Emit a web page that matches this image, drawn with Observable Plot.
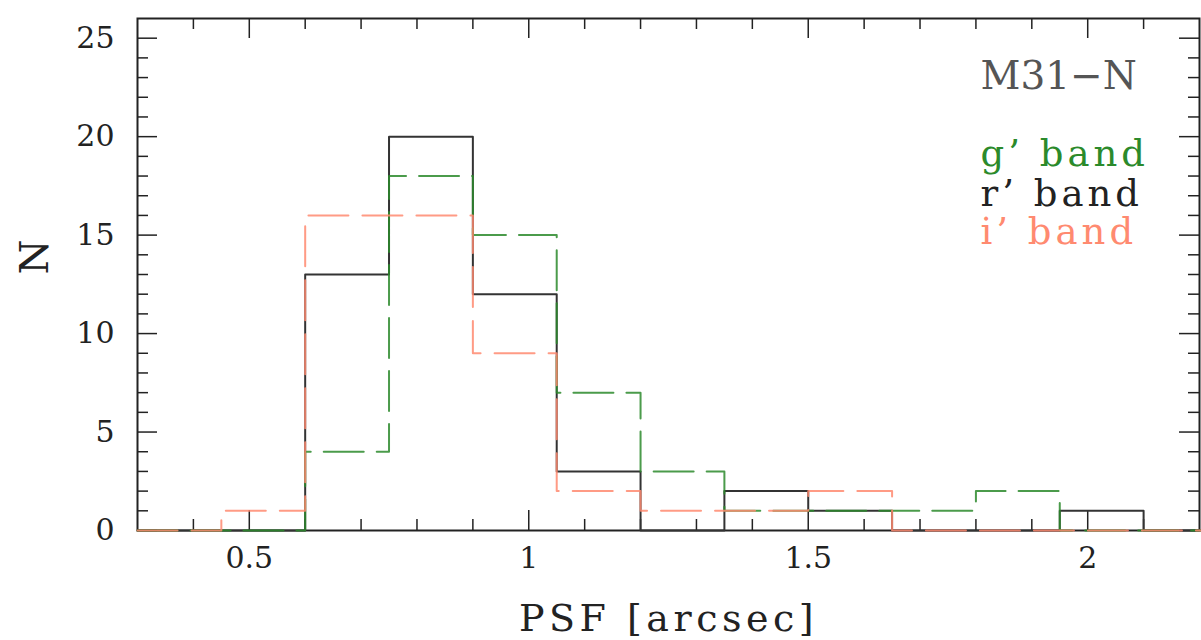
<!DOCTYPE html>
<html><head><meta charset="utf-8">
<script src="https://cdn.jsdelivr.net/npm/d3@7"></script>
<script src="https://cdn.jsdelivr.net/npm/@observablehq/plot@0.6"></script>
<style>
  html,body{margin:0;padding:0;background:#fff;}
  #chart svg{display:block;}
</style>
</head><body><div id="chart"></div>
<script>
// Histogram bin edges (PSF in arcsec) and counts per band
const binEdges = [0.3, 0.45, 0.6, 0.75, 0.9, 1.05, 1.2, 1.35, 1.5, 1.65, 1.8, 1.95, 2.1, 2.25];
const gBand = [0, 0, 4, 18, 15, 7, 3, 1, 1, 1, 2, 0, 0];
const rBand = [0, 0, 13, 20, 12, 3, 0, 2, 1, 0, 0, 1, 0];
const iBand = [0, 1, 16, 16, 9, 2, 1, 1, 2, 0, 0, 0, 0];

// Axis ticks
const xMajorTicks = [0.5, 1, 1.5, 2];
const xMinorTicks = [0.4, 0.6, 0.7, 0.8, 0.9, 1.1, 1.2, 1.3, 1.4, 1.6, 1.7, 1.8, 1.9, 2.1];
const yMajorTicks = [0, 5, 10, 15, 20, 25];
const yMinorTicks = [1, 2, 3, 4, 6, 7, 8, 9, 11, 12, 13, 14, 16, 17, 18, 19, 21, 22, 23, 24];

// Text
const xLabel = "PSF [arcsec]";
const yLabel = "N";
const fieldLabel = "M31\u2212N";
const bandLabels = ["g\u2019 band", "r\u2019 band", "i\u2019 band"];

const steps = counts => binEdges.map((x, i) => ({x, y: counts[Math.min(i, counts.length - 1)]}));

const W = 1201, H = 640, mL = 137, mR = 2, mT = 18, mB = 110;
const fw = W - mL - mR, fh = H - mT - mB;
const major = 20, minor = 11;
const axisColor = "#222";
const green = "#2b8a2b", salmon = "#ff8a70";

const chart = Plot.plot({
  width: W, height: H,
  marginLeft: mL, marginRight: mR, marginTop: mT, marginBottom: mB,
  x: {domain: [0.3, 2.2]},
  y: {domain: [0, 26]},
  style: {fontFamily: "'DejaVu Serif', serif", background: "#fff", color: axisColor},
  marks: [
    Plot.frame({stroke: axisColor, strokeWidth: 2}),
    // inward ticks: bottom & top
    Plot.tickX(xMajorTicks, {x: d => d, insetTop: fh - major, stroke: axisColor, strokeWidth: 1.5}),
    Plot.tickX(xMinorTicks, {x: d => d, insetTop: fh - minor, stroke: axisColor, strokeWidth: 1.5}),
    Plot.tickX(xMajorTicks, {x: d => d, insetBottom: fh - major, stroke: axisColor, strokeWidth: 1.5}),
    Plot.tickX(xMinorTicks, {x: d => d, insetBottom: fh - minor, stroke: axisColor, strokeWidth: 1.5}),
    // inward ticks: left & right
    Plot.tickY(yMajorTicks, {y: d => d, insetRight: fw - major, stroke: axisColor, strokeWidth: 1.5}),
    Plot.tickY(yMinorTicks, {y: d => d, insetRight: fw - minor, stroke: axisColor, strokeWidth: 1.5}),
    Plot.tickY(yMajorTicks, {y: d => d, insetLeft: fw - major, stroke: axisColor, strokeWidth: 1.5}),
    Plot.tickY(yMinorTicks, {y: d => d, insetLeft: fw - minor, stroke: axisColor, strokeWidth: 1.5}),
    // histograms
    Plot.line(steps(rBand), {x: "x", y: "y", curve: "step-after", stroke: "#333", strokeWidth: 2}),
    Plot.line(steps(gBand), {x: "x", y: "y", curve: "step-after", stroke: green, strokeWidth: 2, strokeDasharray: "40,13", strokeOpacity: 0.85}),
    Plot.line(steps(iBand), {x: "x", y: "y", curve: "step-after", stroke: salmon, strokeWidth: 2, strokeDasharray: "40,14", strokeOpacity: 0.85}),
    // tick labels
    Plot.axisX(xMajorTicks, {tickSize: 0, tickPadding: 16, fontSize: 30, label: null, tickFormat: d => String(d)}),
    Plot.axisY(yMajorTicks, {tickSize: 0, tickPadding: 23, fontSize: 30, label: null, tickFormat: d => String(d)}),
    // axis titles
    Plot.text([xLabel], {text: d => d, frameAnchor: "bottom", dy: 100, lineAnchor: "bottom", fontSize: 38, fill: "#222", className: "wide"}),
    Plot.text([yLabel], {text: d => d, frameAnchor: "left", dx: -102, rotate: -90, fontSize: 40, fill: "#222"}),
    // in-plot legend
    Plot.text([fieldLabel], {text: d => d, frameAnchor: "top-left", dx: 843, dy: 70, textAnchor: "start", lineAnchor: "bottom", fontSize: 39, fill: "#555"}),
    Plot.text([bandLabels[0]], {text: d => d, frameAnchor: "top-left", dx: 843, dy: 147, textAnchor: "start", lineAnchor: "bottom", fontSize: 37, fill: green, className: "wide2"}),
    Plot.text([bandLabels[1]], {text: d => d, frameAnchor: "top-left", dx: 843, dy: 187, textAnchor: "start", lineAnchor: "bottom", fontSize: 37, fill: "#222", className: "wide2"}),
    Plot.text([bandLabels[2]], {text: d => d, frameAnchor: "top-left", dx: 843, dy: 225, textAnchor: "start", lineAnchor: "bottom", fontSize: 37, fill: salmon, className: "wide2"})
  ]
});
// widen letter spacing of the serif labels to match the original plotting font
d3.select(chart).selectAll(".wide text").style("letter-spacing", "4.5px");
d3.select(chart).selectAll(".wide2 text").style("letter-spacing", "4px");
document.getElementById("chart").appendChild(chart);
</script>
</body></html>
